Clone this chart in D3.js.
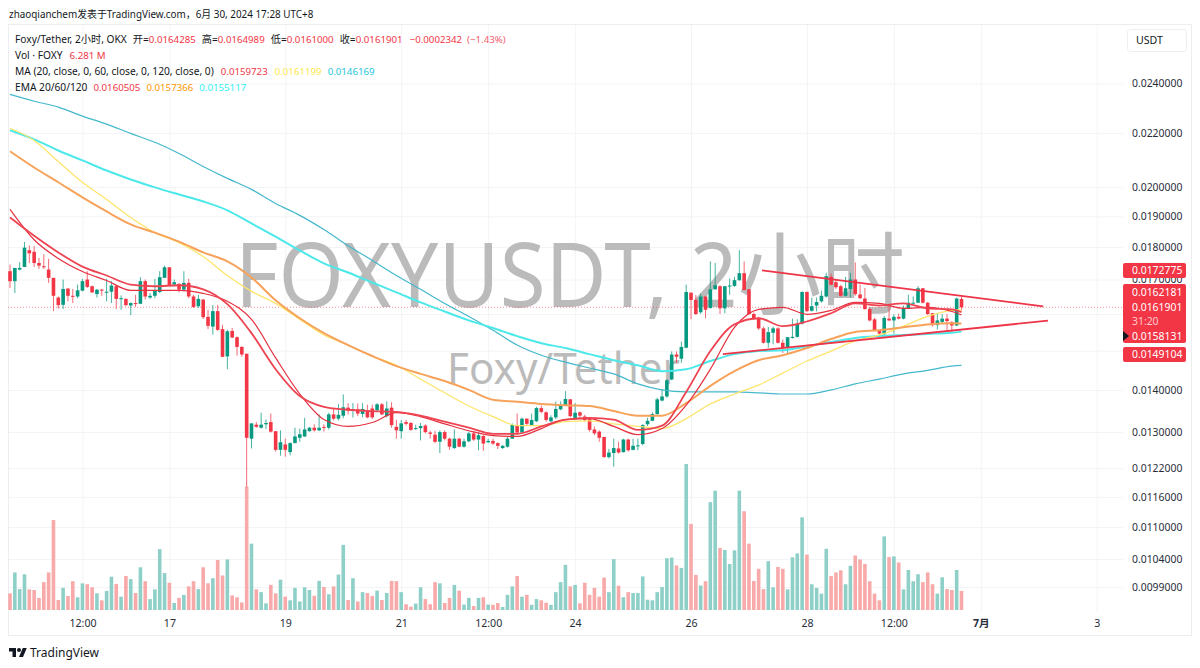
<!DOCTYPE html>
<html>
<head>
<meta charset="utf-8">
<script src="https://cdn.jsdelivr.net/npm/d3@7"></script>
<style>
  html, body { margin: 0; padding: 0; background: #fff; }
  text { font-family: "Noto Sans", "Noto Sans CJK SC", sans-serif; }
</style>
</head>
<body>
<div id="chart"></div>
<script>
// OHLC, one candle every 2 hours
const opens = [
  0.01725,0.01695,0.01730,0.01738,0.01790,0.01785,0.01750,0.01740,0.01730,0.01705,
  0.01647,0.01626,0.01673,0.01652,0.01650,0.01667,0.01700,0.01680,0.01657,0.01670,
  0.01663,0.01664,0.01680,0.01643,0.01643,0.01624,0.01631,0.01629,0.01695,0.01647,
  0.01652,0.01663,0.01705,0.01737,0.01685,0.01687,0.01670,0.01690,0.01650,0.01622,
  0.01641,0.01592,0.01565,0.01608,0.01558,0.01485,0.01553,0.01536,0.01510,0.01492,
  0.01285,0.01317,0.01310,0.01318,0.01323,0.01302,0.01260,0.01272,0.01255,0.01275,
  0.01287,0.01290,0.01302,0.01310,0.01304,0.01312,0.01310,0.01341,0.01331,0.01338,
  0.01357,0.01350,0.01353,0.01342,0.01350,0.01355,0.01351,0.01365,0.01337,0.01357,
  0.01312,0.01302,0.01323,0.01321,0.01308,0.01309,0.01315,0.01299,0.01294,0.01278,
  0.01300,0.01285,0.01264,0.01285,0.01267,0.01279,0.01297,0.01283,0.01291,0.01277,
  0.01280,0.01275,0.01264,0.01267,0.01285,0.01316,0.01299,0.01331,0.01316,0.01325,
  0.01356,0.01346,0.01325,0.01334,0.01353,0.01363,0.01377,0.01332,0.01346,0.01336,
  0.01330,0.01306,0.01301,0.01289,0.01244,0.01253,0.01263,0.01255,0.01283,0.01260,
  0.01268,0.01273,0.01318,0.01326,0.01342,0.01374,0.01384,0.01426,0.01490,0.01479,
  0.01508,0.01661,0.01640,0.01605,0.01650,0.01617,0.01671,0.01680,0.01616,0.01680,
  0.01681,0.01698,0.01719,0.01671,0.01600,0.01588,0.01560,0.01521,0.01548,0.01560,
  0.01521,0.01508,0.01534,0.01537,0.01573,0.01663,0.01609,0.01624,0.01636,0.01650,
  0.01708,0.01692,0.01680,0.01652,0.01672,0.01700,0.01656,0.01644,0.01614,0.01585,
  0.01553,0.01544,0.01587,0.01582,0.01592,0.01587,0.01617,0.01631,0.01632,0.01674,
  0.01632,0.01602,0.01569,0.01578,0.01587,0.01577,0.01568,0.0164285
];
const highs = [
  0.01745,0.01735,0.01753,0.01816,0.01805,0.01803,0.01766,0.01777,0.01763,0.01705,
  0.01650,0.01700,0.01675,0.01672,0.01685,0.01702,0.01725,0.01682,0.01672,0.01672,
  0.01702,0.01695,0.01682,0.01653,0.01645,0.01633,0.01655,0.01707,0.01700,0.01660,
  0.01702,0.01725,0.01742,0.01737,0.01700,0.01690,0.01725,0.01702,0.01655,0.01655,
  0.01643,0.01612,0.01626,0.01626,0.01570,0.01556,0.01561,0.01538,0.01512,0.01492,
  0.01320,0.01323,0.01345,0.01329,0.01343,0.01302,0.01304,0.01285,0.01277,0.01310,
  0.01308,0.01333,0.01312,0.01318,0.01341,0.01318,0.01345,0.01357,0.01366,0.01389,
  0.01368,0.01368,0.01367,0.01368,0.01364,0.01364,0.01368,0.01368,0.01372,0.01370,
  0.01328,0.01328,0.01328,0.01323,0.01317,0.01321,0.01318,0.01303,0.01303,0.01304,
  0.01304,0.01287,0.01306,0.01287,0.01285,0.01301,0.01301,0.01299,0.01293,0.01285,
  0.01285,0.01277,0.01271,0.01289,0.01320,0.01343,0.01334,0.01332,0.01343,0.01359,
  0.01362,0.01348,0.01339,0.01372,0.01372,0.01397,0.01378,0.01368,0.01348,0.01340,
  0.01332,0.01313,0.01304,0.01289,0.01262,0.01285,0.01278,0.01285,0.01285,0.01285,
  0.01285,0.01318,0.01333,0.01346,0.01381,0.01401,0.01427,0.01498,0.01498,0.01524,
  0.01685,0.01662,0.01654,0.01659,0.01652,0.01755,0.01750,0.01683,0.01681,0.01703,
  0.01708,0.01790,0.01755,0.01672,0.01604,0.01592,0.01565,0.01564,0.01565,0.01563,
  0.01530,0.01536,0.01587,0.01585,0.01665,0.01665,0.01647,0.01647,0.01667,0.01720,
  0.01718,0.01702,0.01684,0.01708,0.01720,0.01752,0.01685,0.01675,0.01617,0.01589,
  0.01555,0.01594,0.01628,0.01599,0.01601,0.01624,0.01655,0.01650,0.01680,0.01675,
  0.01634,0.01603,0.01600,0.01600,0.01600,0.01580,0.01647,0.0164989
];
const lows = [
  0.01675,0.01660,0.01728,0.01738,0.01750,0.01738,0.01732,0.01732,0.01690,0.01608,
  0.01615,0.01614,0.01636,0.01631,0.01645,0.01665,0.01675,0.01660,0.01647,0.01652,
  0.01636,0.01631,0.01614,0.01612,0.01622,0.01597,0.01620,0.01629,0.01641,0.01643,
  0.01645,0.01660,0.01705,0.01680,0.01680,0.01662,0.01665,0.01645,0.01617,0.01617,
  0.01586,0.01558,0.01543,0.01553,0.01483,0.01452,0.01534,0.01487,0.01484,0.01180,
  0.01263,0.01310,0.01308,0.01307,0.01299,0.01256,0.01247,0.01245,0.01248,0.01275,
  0.01278,0.01289,0.01301,0.01301,0.01302,0.01301,0.01306,0.01327,0.01327,0.01332,
  0.01341,0.01334,0.01337,0.01334,0.01332,0.01330,0.01347,0.01340,0.01334,0.01310,
  0.01285,0.01285,0.01315,0.01303,0.01305,0.01281,0.01297,0.01285,0.01275,0.01253,
  0.01281,0.01260,0.01262,0.01266,0.01265,0.01277,0.01280,0.01259,0.01258,0.01275,
  0.01271,0.01262,0.01262,0.01265,0.01285,0.01295,0.01297,0.01316,0.01316,0.01323,
  0.01344,0.01324,0.01323,0.01330,0.01351,0.01361,0.01334,0.01330,0.01332,0.01324,
  0.01301,0.01293,0.01278,0.01243,0.01241,0.01223,0.01252,0.01254,0.01256,0.01259,
  0.01259,0.01270,0.01314,0.01325,0.01340,0.01372,0.01381,0.01424,0.01468,0.01468,
  0.01506,0.01585,0.01597,0.01600,0.01588,0.01615,0.01670,0.01600,0.01602,0.01655,
  0.01678,0.01696,0.01668,0.01597,0.01583,0.01556,0.01519,0.01508,0.01517,0.01519,
  0.01494,0.01494,0.01532,0.01535,0.01571,0.01606,0.01607,0.01607,0.01632,0.01647,
  0.01683,0.01672,0.01650,0.01650,0.01647,0.01652,0.01643,0.01612,0.01579,0.01553,
  0.01533,0.01533,0.01580,0.01546,0.01585,0.01585,0.01614,0.01630,0.01631,0.01630,
  0.01597,0.01565,0.01557,0.01575,0.01555,0.01547,0.01566,0.0161000
];
const closes = [
  0.01695,0.01735,0.01735,0.01798,0.01780,0.01750,0.01742,0.01738,0.01705,0.01652,
  0.01625,0.01672,0.01652,0.01650,0.01668,0.01695,0.01678,0.01662,0.01670,0.01667,
  0.01664,0.01682,0.01643,0.01645,0.01625,0.01631,0.01629,0.01695,0.01650,0.01652,
  0.01668,0.01707,0.01737,0.01682,0.01692,0.01670,0.01690,0.01650,0.01620,0.01643,
  0.01591,0.01567,0.01608,0.01556,0.01484,0.01552,0.01535,0.01510,0.01490,0.01287,
  0.01320,0.01312,0.01317,0.01321,0.01301,0.01260,0.01277,0.01260,0.01275,0.01290,
  0.01295,0.01306,0.01310,0.01304,0.01310,0.01310,0.01341,0.01331,0.01340,0.01358,
  0.01350,0.01353,0.01343,0.01354,0.01334,0.01334,0.01365,0.01341,0.01355,0.01316,
  0.01304,0.01320,0.01319,0.01305,0.01309,0.01314,0.01300,0.01296,0.01278,0.01300,
  0.01285,0.01267,0.01285,0.01267,0.01279,0.01297,0.01283,0.01293,0.01274,0.01280,
  0.01274,0.01269,0.01269,0.01285,0.01316,0.01299,0.01331,0.01319,0.01328,0.01356,
  0.01347,0.01328,0.01334,0.01354,0.01363,0.01378,0.01337,0.01345,0.01338,0.01328,
  0.01305,0.01297,0.01287,0.01244,0.01254,0.01264,0.01254,0.01283,0.01259,0.01269,
  0.01270,0.01316,0.01326,0.01342,0.01377,0.01384,0.01424,0.01490,0.01484,0.01510,
  0.01663,0.01640,0.01600,0.01650,0.01612,0.01671,0.01683,0.01616,0.01680,0.01682,
  0.01698,0.01719,0.01669,0.01600,0.01588,0.01560,0.01521,0.01550,0.01560,0.01521,
  0.01508,0.01536,0.01537,0.01573,0.01663,0.01608,0.01622,0.01634,0.01652,0.01710,
  0.01684,0.01677,0.01652,0.01674,0.01700,0.01657,0.01645,0.01614,0.01582,0.01555,
  0.01546,0.01589,0.01582,0.01592,0.01587,0.01617,0.01632,0.01632,0.01674,0.01632,
  0.01600,0.01569,0.01582,0.01587,0.01580,0.01568,0.01644,0.0161901
];
// volume, millions of FOXY
const volumes = [
  5.5,12.4,6.9,11.8,6.8,6.6,4.0,9.2,12.4,29.7,
  3.3,7.3,4.6,9.5,4.2,8.8,8.5,7.5,5.5,3.2,
  6.3,11.0,8.6,4.4,11.2,10.2,5.6,14.1,9.5,3.6,
  6.8,20.1,12.2,9.0,2.3,4.0,5.0,7.8,9.5,6.9,
  14.1,8.8,10.5,16.5,11.4,16.7,4.8,4.2,2.5,40.7,
  21.9,6.8,5.9,2.2,8.3,5.5,10.0,4.4,3.2,7.3,
  2.8,7.5,6.6,4.7,9.6,7.6,5.2,7.8,11.7,21.5,
  3.3,10.5,2.8,5.9,5.6,4.6,6.4,3.3,5.6,9.6,
  9.5,5.9,1.9,1.1,2.1,7.5,3.6,1.9,9.2,8.8,
  2.3,4.0,8.3,6.4,1.8,4.0,1.3,4.0,4.2,1.8,
  1.7,2.3,1.0,5.0,7.8,11.2,4.4,5.0,1.7,3.6,
  3.2,2.4,1.7,5.9,9.2,14.9,7.8,8.3,2.2,9.0,
  5.0,7.3,4.4,10.7,5.9,16.8,8.0,4.2,5.9,5.6,
  5.6,11.1,3.4,3.2,5.9,7.6,17.1,17.3,14.7,13.9,
  48.2,28.4,11.6,8.1,9.5,35.6,39.4,20.5,19.8,15.2,
  19.7,39.4,32.6,21.9,9.6,13.6,6.9,16.1,7.5,14.2,
  13.6,6.8,17.4,18.7,30.6,18.3,8.5,7.3,5.4,20.2,
  11.2,12.4,13.1,8.5,14.6,18.0,16.7,15.2,9.5,5.4,
  3.2,24.3,17.5,17.7,15.7,6.8,13.2,9.5,11.8,9.2,
  12.4,8.5,5.4,10.8,6.9,6.6,13.2,6.281
];

// moving averages, read at every 5th bar
const maBars = [0,5,10,15,20,25,30,35,40,45,50,55,60,65,70,75,80,85,90,95,100,105,110,115,120,125,130,135,140,145,150,155,160,165,170,175,180,185,190,195,197];
const ma20 = [0.01923,0.01823,0.01764,0.01724,0.01697,0.01668,0.01668,0.01668,0.01659,0.01636,0.01585,0.01481,0.01390,0.01329,0.01313,0.01322,0.01345,0.01336,0.01319,0.01303,0.01292,0.01290,0.01308,0.01329,0.01331,0.01313,0.01294,0.01308,0.01363,0.01452,0.01563,0.01613,0.01619,0.01599,0.01610,0.01633,0.01630,0.01616,0.01619,0.01607,0.0159723];
const ma60 = [0.02218,0.02171,0.02092,0.02017,0.01957,0.01896,0.01846,0.01814,0.01770,0.01712,0.01665,0.01630,0.01585,0.01542,0.01515,0.01486,0.01462,0.01427,0.01393,0.01361,0.01336,0.01315,0.01315,0.01324,0.01326,0.01319,0.01313,0.01308,0.01331,0.01366,0.01390,0.01412,0.01442,0.01473,0.01499,0.01526,0.01542,0.01566,0.01593,0.01610,0.0161199];
const ma120 = [0.02354,0.02326,0.02302,0.02266,0.02234,0.02198,0.02164,0.02122,0.02074,0.02031,0.01992,0.01943,0.01903,0.01856,0.01804,0.01758,0.01712,0.01671,0.01630,0.01593,0.01555,0.01515,0.01488,0.01470,0.01455,0.01440,0.01415,0.01400,0.01395,0.01395,0.01395,0.01393,0.01390,0.01390,0.01400,0.01415,0.01427,0.01440,0.01449,0.01460,0.0146169];
const ema20 = [0.01896,0.01836,0.01783,0.01739,0.01712,0.01685,0.01680,0.01683,0.01671,0.01628,0.01547,0.01452,0.01385,0.01359,0.01352,0.01349,0.01347,0.01338,0.01324,0.01310,0.01296,0.01296,0.01313,0.01329,0.01333,0.01329,0.01305,0.01315,0.01395,0.01499,0.01571,0.01588,0.01566,0.01579,0.01602,0.01630,0.01624,0.01630,0.01616,0.01613,0.0160505];
const ema60 = [0.02130,0.02070,0.02017,0.01964,0.01916,0.01873,0.01846,0.01817,0.01783,0.01755,0.01706,0.01639,0.01588,0.01547,0.01515,0.01486,0.01460,0.01440,0.01422,0.01400,0.01376,0.01371,0.01366,0.01363,0.01361,0.01349,0.01338,0.01338,0.01368,0.01410,0.01447,0.01475,0.01488,0.01507,0.01531,0.01550,0.01555,0.01563,0.01571,0.01574,0.0157366];
const ema120 = [0.02210,0.02175,0.02133,0.02096,0.02059,0.02027,0.01999,0.01974,0.01950,0.01920,0.01876,0.01833,0.01789,0.01749,0.01721,0.01691,0.01662,0.01633,0.01607,0.01582,0.01561,0.01539,0.01520,0.01507,0.01491,0.01475,0.01462,0.01447,0.01452,0.01473,0.01491,0.01499,0.01501,0.01512,0.01523,0.01534,0.01539,0.01542,0.01545,0.01548,0.0155117];

// the two hand drawn trend lines
const trendBars = [[155.7, 213.9], [147.6, 214.9]];
const trendPrices = [[0.0172775, 0.0162181], [0.0149104, 0.0158131]];

const priceTicks = [0.024,0.022,0.02,0.019,0.018,0.017,0.016,0.015,0.014,0.013,0.0122,0.0116,0.011,0.0104,0.0099];
const hiddenTicks = [0.016, 0.015]; // these two sit behind the red boxes
const timeTickBars = [15,33,57,81,99,117,141,165,183,201,225];
const timeTickLabels = ['12:00','17','19','21','12:00','24','26','28','12:00','7月','3'];

const red = '#f23645', green = '#089981';
const width = 1200, height = 668;

const svg = d3.select('#chart').append('svg')
  .attr('width', width).attr('height', height)
  .style('display', 'block');

const x = d3.scaleLinear().domain([0, 197]).range([10, 961.5]);
const y = d3.scaleLog().domain([0.024, 0.0099]).range([83.4, 587]);
const yVol = d3.scaleLinear().domain([0, 48.2]).range([610, 464]);

// panel frame
svg.append('rect')
  .attr('x', 8.5).attr('y', 24.5).attr('width', 1183).attr('height', 611)
  .attr('fill', '#fff').attr('stroke', '#ededf0');

// axes and grid
const gy = svg.append('g').attr('transform', 'translate(1123,0)')
  .call(d3.axisRight(y).tickValues(priceTicks)
    .tickFormat(d => hiddenTicks.includes(d) ? '' : d.toFixed(7))
    .tickSize(-1114).tickPadding(9));
const gx = svg.append('g').attr('transform', 'translate(0,612)')
  .call(d3.axisBottom(x).tickValues(timeTickBars).tickFormat((d, i) => timeTickLabels[i]).tickSize(-587).tickPadding(7));
gy.select('.domain').remove();
gx.select('.domain').remove();
gy.selectAll('line').attr('stroke', '#f3f4f6');
gx.selectAll('line').attr('stroke', '#f3f4f6');
gy.selectAll('text').attr('fill', '#2a2e39').style('font-size', '10.4px');
gx.selectAll('text').attr('fill', '#2a2e39').style('font-size', '10.6px')
  .style('font-weight', (d, i) => timeTickLabels[i] === '7月' ? 700 : 400);

// watermarks
svg.append('text').attr('x', 235).attr('y', 307)
  .attr('textLength', 670).attr('lengthAdjust', 'spacingAndGlyphs')
  .attr('fill', '#bbbbbb').style('font-size', '90px').text('FOXYUSDT, 2小时');
svg.append('text').attr('x', 447).attr('y', 384)
  .attr('textLength', 233).attr('lengthAdjust', 'spacingAndGlyphs')
  .attr('fill', '#bbbbbb').style('font-size', '44px').text('Foxy/Tether');

// last price line
svg.append('line')
  .attr('x1', 8).attr('x2', 1123)
  .attr('y1', y(closes[197])).attr('y2', y(closes[197]))
  .attr('stroke', red).attr('stroke-opacity', 0.55).attr('stroke-dasharray', '1 2');

// volume
const barWidth = 3.6;
svg.append('g').selectAll('rect').data(volumes).join('rect')
  .attr('x', (d, i) => x(i) - barWidth / 2)
  .attr('width', barWidth)
  .attr('y', d => yVol(d))
  .attr('height', d => yVol(0) - yVol(d))
  .attr('fill', (d, i) => closes[i] >= opens[i] ? '#8ed0c8' : '#f8a9a9');

// candles
const candles = svg.append('g').selectAll('g').data(opens).join('g')
  .attr('fill', (d, i) => closes[i] >= opens[i] ? green : red)
  .attr('stroke', (d, i) => closes[i] >= opens[i] ? green : red);
candles.append('line')
  .attr('x1', (d, i) => x(i)).attr('x2', (d, i) => x(i))
  .attr('y1', (d, i) => y(highs[i])).attr('y2', (d, i) => y(lows[i]))
  .attr('stroke-width', 1).attr('stroke-opacity', 0.75);
candles.append('rect')
  .attr('x', (d, i) => x(i) - barWidth / 2)
  .attr('width', barWidth)
  .attr('y', (d, i) => y(Math.max(opens[i], closes[i])))
  .attr('height', (d, i) => Math.max(1, Math.abs(y(opens[i]) - y(closes[i]))))
  .attr('stroke', 'none');

// moving average lines
const maLine = d3.line().x((d, i) => x(maBars[i])).y(d => y(d)).curve(d3.curveMonotoneX);
const maSeries = [
  [ma120, '#45b8cc', 1.2],
  [ema120, '#4de8ea', 2],
  [ma60, '#fde56b', 1.3],
  [ema60, '#f7a25a', 2],
  [ma20, '#e5303f', 1.2],
  [ema20, '#ee4452', 1.8]
];
maSeries.forEach(([values, color, w]) => {
  svg.append('path').attr('d', maLine(values))
    .attr('fill', 'none').attr('stroke', color).attr('stroke-width', w);
});

// trend lines
trendBars.forEach((bars, k) => {
  svg.append('line')
    .attr('x1', x(bars[0])).attr('y1', y(trendPrices[k][0]))
    .attr('x2', x(bars[1])).attr('y2', y(trendPrices[k][1]))
    .attr('stroke', '#ee3448').attr('stroke-width', 1.8);
});

// price labels on the right
function priceBox(top, h) {
  svg.append('rect').attr('x', 1123).attr('y', top).attr('width', 63).attr('height', h)
    .attr('rx', 2).attr('fill', red);
}
function boxText(cy, s, color) {
  svg.append('text').attr('x', 1132).attr('y', cy + 3.8).attr('fill', color || '#fff')
    .style('font-size', '10.4px').text(s);
}
priceBox(263, 15);
boxText(270.5, trendPrices[0][0].toFixed(7));
priceBox(284, 59);
boxText(292, trendPrices[0][1].toFixed(7));
boxText(307.5, closes[197].toFixed(7));
boxText(321, '31:20', '#ffc9cd');
boxText(336, trendPrices[1][1].toFixed(7));
priceBox(347, 15);
boxText(354.5, trendPrices[1][0].toFixed(7));
svg.append('path').attr('d', 'M1123 331 L1129 336 L1123 341 Z').attr('fill', '#131722');

// currency button
svg.append('rect').attr('x', 1127.5).attr('y', 29.5).attr('width', 59).attr('height', 22)
  .attr('rx', 3).attr('fill', '#fff').attr('stroke', '#eeeef1');
svg.append('text').attr('x', 1136).attr('y', 44).attr('fill', '#131722')
  .style('font-size', '10.6px').text('USDT');

// title
svg.append('text').attr('x', 9).attr('y', 18).attr('fill', '#131722')
  .style('font-size', '9.9px').text('zhaoqianchem发表于TradingView.com，6月 30, 2024 17:28 UTC+8');

// legend, numbers run a bit narrower than the words
function legendLine(yPos, parts) {
  const t = svg.append('text').attr('x', 15).attr('y', yPos).style('font-size', '10.2px');
  parts.forEach(([s, color, gap]) => {
    const isNumber = color !== ink;
    t.append('tspan').attr('dx', gap || 0).attr('fill', color)
      .style('font-size', isNumber ? '9.7px' : '10.2px').text(s);
  });
}
const ink = '#131722';
const fmt = d => d.toFixed(7);
legendLine(43, [['Foxy/Tether, 2小时, OKX', ink], ['开=', ink, 6], [fmt(opens[197]), red], ['高=', ink, 6], [fmt(highs[197]), red],
  ['低=', ink, 6], [fmt(lows[197]), red], ['收=', ink, 6], [fmt(closes[197]), red], ['−0.0002342', red, 7], ['(−1.43%)', '#f2606c', 5]]);
legendLine(59, [['Vol · FOXY', ink], ['6.281 M', red, 7]]);
legendLine(75, [['MA (20, close, 0, 60, close, 0, 120, close, 0)', ink], [fmt(ma20[40]), red, 7], [fmt(ma60[40]), '#fde74c', 7], [fmt(ma120[40]), '#26c6da', 6]]);
legendLine(91, [['EMA 20/60/120', ink], [fmt(ema20[40]), red, 6], [fmt(ema60[40]), '#ff9800', 6], [fmt(ema120[40]), '#33f0f5', 6]]);

// footer logo
const logo = svg.append('g').attr('transform', 'translate(9,646) scale(0.5)').attr('fill', '#131722');
logo.append('path').attr('d', 'M14 22H7V11H0V4h14v18zM28 22h-8l7.5-18h8L28 22z');
logo.append('circle').attr('cx', 20).attr('cy', 8).attr('r', 4);
svg.append('text').attr('x', 30).attr('y', 656.5).attr('fill', '#131722')
  .style('font-size', '12px').text('TradingView');
</script>
</body>
</html>
